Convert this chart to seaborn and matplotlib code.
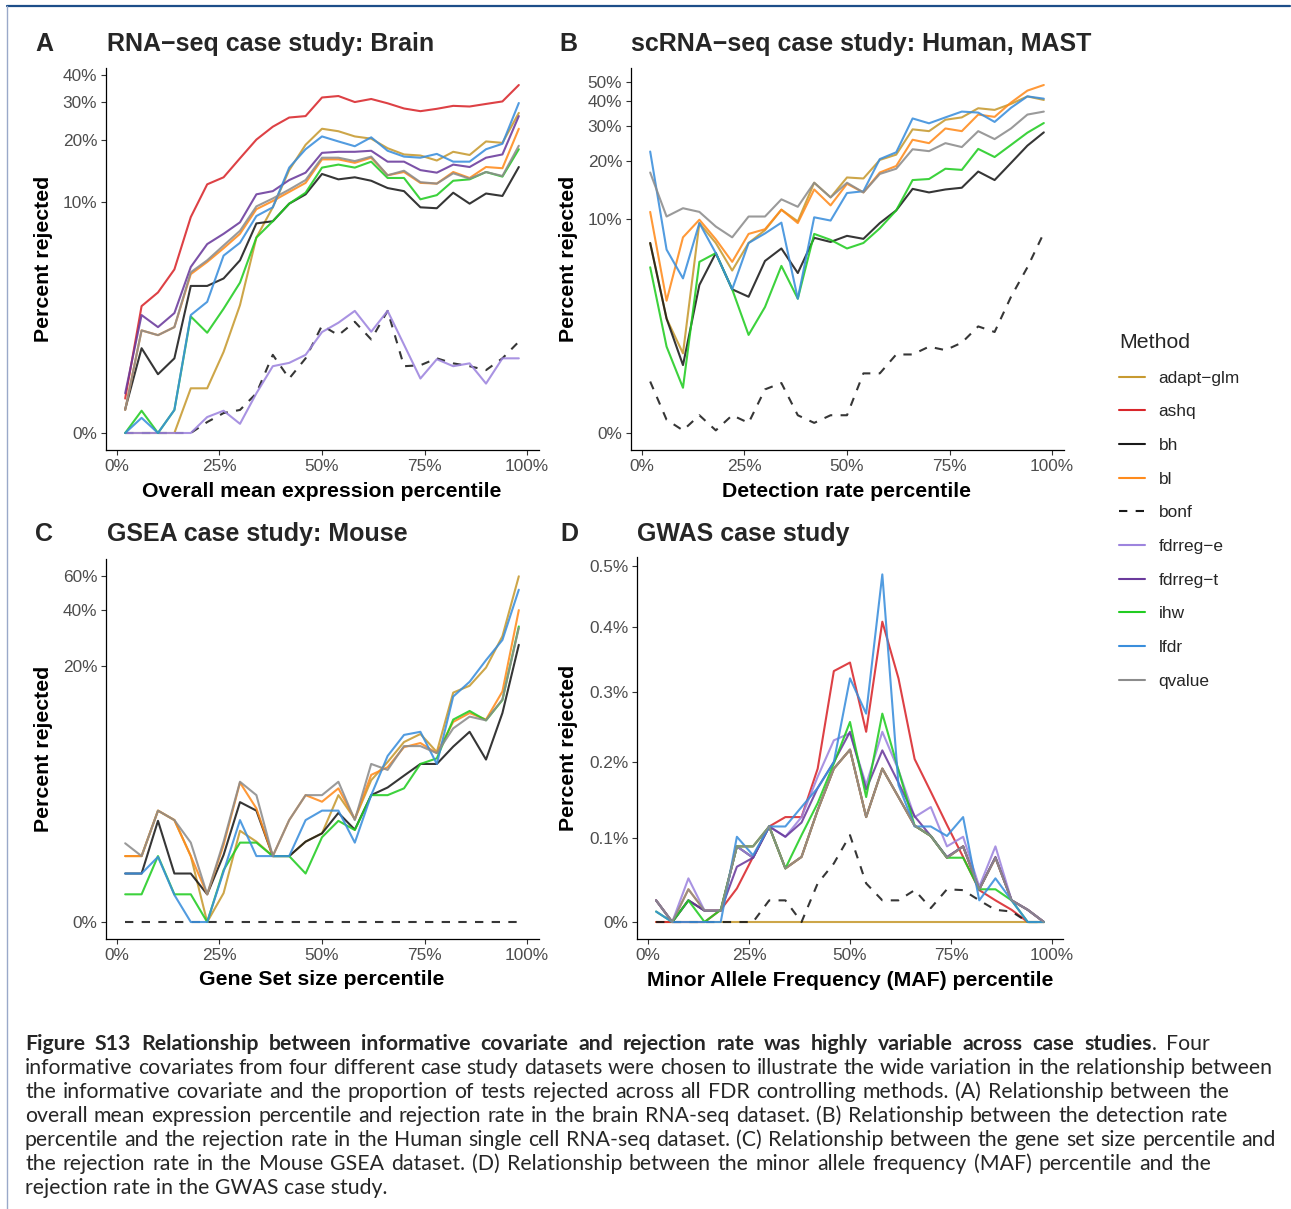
import numpy as np
import pandas as pd
import matplotlib
matplotlib.use("Agg")
import matplotlib.pyplot as plt
from matplotlib.lines import Line2D
import seaborn as sns

# ---------------------------------------------------------------- data
PERCENTILE = [2, 6, 10, 14, 18, 22, 26, 30, 34, 38, 42, 46, 50,
              54, 58, 62, 66, 70, 74, 78, 82, 86, 90, 94, 98]

METHODS = ["adapt−glm", "ashq", "bh", "bl", "bonf",
           "fdrreg−e", "fdrreg−t", "ihw", "lfdr", "qvalue"]

COLORS = {
    "adapt−glm": "#C79A30",
    "ashq": "#D9262B",
    "bh": "#1A1A1A",
    "bl": "#FF8B1C",
    "bonf": "#1A1A1A",
    "fdrreg−e": "#9D84DE",
    "fdrreg−t": "#6A3A9C",
    "ihw": "#22CC22",
    "lfdr": "#3A8EDC",
    "qvalue": "#8C8C8C",
}
DASHES = {m: "" for m in METHODS}
DASHES["bonf"] = (4, 4)

# A: RNA-seq, brain (percent rejected)
BRAIN = {
    "adapt−glm": [0, 0, 0, 0, 0.59, 0.59, 1.32, 2.77, 6.6, 9.4, 14.3, 18.9, 22.5,
                  21.9, 20.7, 20.2, 18.2, 17.0, 16.8, 15.9, 17.5, 16.9, 19.6, 19.3, 26.7],
    "ashq": [0.43, 2.73, 3.3, 4.46, 8.4, 12.2, 13.2, 16.3, 20.0, 23.0, 25.4, 25.8, 31.5,
             32.0, 30.0, 31.0, 29.6, 28.0, 27.2, 27.9, 28.8, 28.6, 29.4, 30.2, 36.0],
    "bh": [0.28, 1.41, 0.84, 1.17, 3.6, 3.6, 3.97, 5.0, 7.8, 8.0, 9.8, 10.9, 13.7,
           12.9, 13.2, 12.7, 11.7, 11.3, 9.4, 9.3, 11.1, 9.8, 11.0, 10.7, 14.8],
    "bl": [0.27, 1.9, 1.76, 2.0, 4.2, 4.9, 5.8, 6.9, 9.2, 10.1, 11.2, 12.4, 16.1,
           16.1, 15.5, 16.4, 13.5, 14.0, 12.4, 12.3, 14.0, 13.1, 14.8, 14.6, 22.5],
    "bonf": [0, 0, 0, 0, 0, 0.12, 0.23, 0.27, 0.51, 1.25, 0.76, 1.17, 2.05,
             1.76, 2.17, 1.64, 2.55, 1.0, 1.02, 1.17, 1.06, 1.0, 0.92, 1.17, 1.58],
    "fdrreg−e": [0, 0, 0, 0, 0, 0.18, 0.26, 0.10, 0.51, 1.0, 1.07, 1.25, 1.85,
                 2.14, 2.55, 1.86, 2.55, 1.5, 0.76, 1.15, 1.0, 1.06, 0.67, 1.17, 1.17],
    "fdrreg−t": [0.51, 2.4, 2.0, 2.47, 4.6, 6.1, 6.9, 7.9, 10.9, 11.3, 12.8, 13.9, 17.3,
                 17.5, 17.5, 17.7, 15.7, 15.7, 14.3, 13.9, 15.2, 14.8, 16.4, 17.0, 25.8],
    "ihw": [0, 0.26, 0, 0.27, 2.35, 1.83, 2.63, 3.76, 6.6, 8.0, 9.8, 11.1, 14.7,
            15.2, 14.7, 15.7, 13.1, 13.1, 10.3, 10.8, 12.7, 12.9, 14.0, 13.3, 18.0],
    "lfdr": [0, 0.17, 0, 0.27, 2.4, 2.9, 5.3, 6.2, 8.5, 9.4, 14.7, 18.0, 20.7,
             19.6, 18.6, 20.5, 17.7, 16.6, 16.4, 17.1, 15.7, 15.7, 18.0, 19.1, 29.7],
    "qvalue": [0.27, 1.9, 1.76, 2.0, 4.3, 5.0, 6.0, 7.15, 9.5, 10.4, 11.5, 12.8, 16.4,
               16.4, 15.8, 16.6, 13.5, 14.2, 12.5, 12.3, 13.8, 13.0, 14.0, 13.4, 18.7],
}

# B: scRNA-seq, human, MAST
HUMAN = {
    "adapt−glm": [7.4, 2.6, 1.44, 9.5, 7.4, 5.17, 7.4, 8.7, 11.2, 9.7, 15.5, 13.0, 16.5,
                  16.3, 20.3, 21.6, 29.0, 28.4, 32.4, 33.3, 37.0, 36.3, 38.9, 42.4, 40.7],
    "bh": [7.4, 2.6, 1.14, 4.25, 6.5, 4.0, 3.6, 5.87, 6.9, 5.0, 7.9, 7.5, 8.1,
           7.8, 9.5, 11.1, 14.4, 13.8, 14.3, 14.6, 17.7, 16.0, 19.6, 24.0, 28.0],
    "bl": [10.9, 3.4, 7.95, 9.9, 7.76, 5.8, 8.3, 8.8, 11.2, 9.5, 14.3, 11.8, 15.3,
           13.8, 17.5, 18.9, 25.7, 24.7, 29.3, 28.4, 34.4, 33.5, 39.5, 45.3, 48.3],
    "bonf": [0.78, 0.16, 0.03, 0.22, 0.03, 0.22, 0.12, 0.63, 0.75, 0.22, 0.12, 0.22, 0.22,
             0.95, 0.95, 1.41, 1.41, 1.63, 1.53, 1.75, 2.3, 2.1, 3.6, 5.4, 8.4],
    "ihw": [5.4, 1.63, 0.66, 5.8, 6.5, 4.0, 2.0, 3.1, 5.5, 3.5, 8.3, 7.7, 6.9,
            7.4, 8.9, 11.1, 16.0, 16.2, 18.3, 18.05, 23.1, 21.0, 24.2, 27.9, 31.2],
    "lfdr": [22.4, 6.8, 4.65, 9.5, 6.5, 4.0, 7.4, 8.35, 9.55, 3.5, 10.2, 9.8, 13.7,
             14.0, 20.5, 22.2, 32.9, 31.1, 33.3, 35.6, 35.2, 31.6, 37.2, 42.4, 41.3],
    "qvalue": [17.5, 10.3, 11.4, 10.9, 9.1, 7.95, 10.3, 10.3, 12.7, 11.6, 15.5, 13.0, 15.5,
               13.8, 17.2, 18.3, 23.0, 22.5, 24.7, 23.6, 28.4, 25.9, 29.3, 34.4, 35.6],
}

# C: GSEA, mouse
MOUSE = {
    "adapt−glm": [1.19, 1.19, 2.76, 2.36, 1.19, 0, 0.41, 1.96, 1.6, 1.19, 1.19, 1.6, 1.87,
                  3.52, 2.4, 4.4, 5.7, 7.5, 8.35, 6.55, 14.3, 15.6, 19.6, 28.9, 60.0],
    "bh": [0.78, 0.78, 2.33, 0.78, 0.78, 0.39, 1.22, 3.16, 2.76, 1.19, 1.19, 1.6, 1.87,
           2.66, 2.0, 3.52, 3.95, 4.7, 5.55, 5.55, 7.05, 8.6, 5.9, 11.0, 26.0],
    "bl": [1.19, 1.19, 2.76, 2.36, 1.19, 0.39, 1.5, 4.25, 2.86, 1.19, 2.36, 3.52, 3.18,
           3.9, 2.4, 4.75, 5.3, 7.0, 7.4, 6.45, 9.8, 11.0, 10.1, 14.5, 39.8],
    "bonf": [0] * 25,
    "ihw": [0.39, 0.39, 1.19, 0.39, 0.39, 0, 0.855, 1.57, 1.57, 1.19, 1.19, 0.78, 1.74,
            2.33, 1.985, 3.52, 3.52, 3.9, 5.55, 6.0, 10.1, 11.3, 10.0, 13.0, 32.6],
    "lfdr": [0.78, 0.78, 1.17, 0.38, 0, 0, 0.82, 2.36, 1.19, 1.19, 1.19, 2.36, 2.76,
             2.76, 1.57, 3.52, 6.2, 8.25, 8.6, 5.55, 13.6, 16.4, 21.5, 27.6, 51.0],
    "qvalue": [1.55, 1.19, 2.76, 2.36, 1.57, 0.39, 1.6, 4.3, 3.52, 1.19, 2.36, 3.52, 3.52,
               4.3, 2.36, 5.55, 5.1, 7.1, 7.1, 6.45, 9.0, 10.5, 10.0, 13.1, 32.0],
}

# D: GWAS
GWAS = {
    "adapt−glm": [0] * 25,
    "ashq": [0, 0, 0, 0, 0.014, 0.039, 0.077, 0.115, 0.127, 0.127, 0.191, 0.331, 0.344,
             0.242, 0.408, 0.320, 0.204, 0.160, 0.117, 0.077, 0.037, 0.025, 0.014, 0, 0],
    "bh": [0.025, 0, 0.025, 0.013, 0.013, 0.090, 0.076, 0.115, 0.063, 0.077, 0.136, 0.191, 0.217,
           0.127, 0.191, 0.153, 0.116, 0.103, 0.076, 0.090, 0.038, 0.076, 0.025, 0.014, 0],
    "bl": [0.025, 0, 0.038, 0.013, 0.013, 0.090, 0.090, 0.115, 0.063, 0.077, 0.136, 0.191, 0.217,
           0.127, 0.191, 0.153, 0.116, 0.103, 0.076, 0.090, 0.038, 0.076, 0.025, 0.014, 0],
    "bonf": [0, 0, 0, 0, 0, 0, 0, 0.025, 0.025, 0, 0.045, 0.069, 0.104,
             0.045, 0.025, 0.025, 0.037, 0.016, 0.038, 0.037, 0.025, 0.014, 0.012, 0, 0],
    "fdrreg−e": [0.025, 0, 0.051, 0.013, 0.013, 0.090, 0.076, 0.115, 0.102, 0.127, 0.180, 0.230, 0.240,
                 0.169, 0.242, 0.189, 0.127, 0.140, 0.090, 0.102, 0.041, 0.090, 0.025, 0.014, 0],
    "fdrreg−t": [0.025, 0, 0.025, 0.013, 0.013, 0.065, 0.076, 0.115, 0.102, 0.120, 0.165, 0.200, 0.242,
                 0.163, 0.216, 0.172, 0.128, 0.103, 0.077, 0.090, 0.038, 0.077, 0.025, 0.014, 0],
    "ihw": [0.012, 0, 0.025, 0, 0.014, 0.090, 0.090, 0.115, 0.063, 0.104, 0.145, 0.198, 0.256,
            0.153, 0.268, 0.189, 0.116, 0.103, 0.076, 0.076, 0.038, 0.038, 0.025, 0, 0],
    "lfdr": [0.012, 0, 0, 0, 0, 0.102, 0.079, 0.115, 0.115, 0.140, 0.165, 0.200, 0.320,
             0.268, 0.486, 0.169, 0.115, 0.115, 0.103, 0.127, 0.025, 0.051, 0.025, 0, 0],
    "qvalue": [0.025, 0, 0.038, 0.013, 0.013, 0.090, 0.090, 0.115, 0.063, 0.077, 0.136, 0.191, 0.217,
               0.127, 0.191, 0.153, 0.116, 0.103, 0.076, 0.090, 0.038, 0.076, 0.025, 0.014, 0],
}

X_TICKS = [0, 25, 50, 75, 100]
X_TICK_LABELS = ["0%", "25%", "50%", "75%", "100%"]

CAPTION_BOLD = ("Figure S13 Relationship between informative covariate and rejection "
                "rate was highly variable across case studies")
CAPTION_LINES = [
    ". Four",
    "informative covariates from four different case study datasets were chosen to "
    "illustrate the wide variation in the relationship between",
    "the informative covariate and the proportion of tests rejected across all FDR "
    "controlling methods. (A) Relationship between the",
    "overall mean expression percentile and rejection rate in the brain RNA-seq dataset. "
    "(B) Relationship between the detection rate",
    "percentile and the rejection rate in the Human single cell RNA-seq dataset. "
    "(C) Relationship between the gene set size percentile and",
    "the rejection rate in the Mouse GSEA dataset. (D) Relationship between the minor "
    "allele frequency (MAF) percentile and the",
    "rejection rate in the GWAS case study.",
]

# ---------------------------------------------------------------- style
sns.set_theme(style="ticks")
plt.rcParams["font.family"] = ["Liberation Sans", "DejaVu Sans"]

W, H = 1291, 1209
fig = plt.figure(figsize=(W / 100, H / 100), dpi=100)
fig.patch.set_facecolor("white")


def px_axes(left, top, right, bottom):
    return fig.add_axes([left / W, 1 - bottom / H, (right - left) / W, (bottom - top) / H])


def fwd(v):
    return np.log10(np.clip(1 + np.asarray(v, dtype=float), 1e-6, None))


def inv(t):
    return 10 ** np.asarray(t, dtype=float) - 1


def draw_panel(ax, data, yticks, ylabels, xlabel, ylab_x):
    rows = [(p, v, m) for m, vals in data.items() for p, v in zip(PERCENTILE, vals)]
    df = pd.DataFrame(rows, columns=["percentile", "rejected", "Method"])
    order = [m for m in METHODS if m in data]
    ax.set_yscale("function", functions=(fwd, inv))
    sns.lineplot(data=df, x="percentile", y="rejected", hue="Method", style="Method",
                 hue_order=order, style_order=order, palette=COLORS, dashes=DASHES,
                 estimator=None, sort=False, legend=False, ax=ax, lw=1.5, alpha=0.88)
    tmax = float(fwd(df["rejected"].max()))
    ax.set_ylim(inv(-0.05 * tmax), inv(1.05 * tmax))
    ax.set_xlim(-2.8, 102.8)
    ax.set_xticks(X_TICKS)
    ax.set_xticklabels(X_TICK_LABELS)
    ax.set_yticks(yticks)
    ax.set_yticklabels(ylabels)
    ax.minorticks_off()
    sns.despine(ax=ax)
    for s in ("left", "bottom"):
        ax.spines[s].set_linewidth(0.9)
        ax.spines[s].set_color("black")
    ax.tick_params(axis="both", length=3.5, width=0.8, color="#333333",
                   labelcolor="#4D4D4D", labelsize=12.4, pad=2.5)
    ax.set_xlabel(xlabel, fontsize=15.3, fontweight="bold", color="black")
    ax.set_ylabel("Percent rejected", fontsize=15.3, fontweight="bold", color="black")
    ax.xaxis.set_label_coords(0.5, -0.107)
    ax.xaxis.label.set_va("center")
    ax.yaxis.set_label_coords(ylab_x, 0.5)
    ax.yaxis.label.set_va("center")
    ax.set_facecolor("white")


axA = px_axes(105.5, 67.6, 538.5, 450.4)
axB = px_axes(630.5, 67.6, 1063.5, 450.4)
axC = px_axes(105.5, 559.0, 538.5, 939.3)
axD = px_axes(636.7, 557.0, 1063.3, 939.4)

draw_panel(axA, BRAIN, [0, 10, 20, 30, 40], ["0%", "10%", "20%", "30%", "40%"],
           "Overall mean expression percentile", -0.144)
draw_panel(axB, HUMAN, [0, 10, 20, 30, 40, 50], ["0%", "10%", "20%", "30%", "40%", "50%"],
           "Detection rate percentile", -0.144)
draw_panel(axC, MOUSE, [0, 20, 40, 60], ["0%", "20%", "40%", "60%"],
           "Gene Set size percentile", -0.144)
draw_panel(axD, GWAS, [0, 0.1, 0.2, 0.3, 0.4, 0.5],
           ["0%", "0.1%", "0.2%", "0.3%", "0.4%", "0.5%"],
           "Minor Allele Frequency (MAF) percentile", -0.161)

# panel letters and titles
for letter, lx, title, tx, ty in [
    ("A", 35, "RNA−seq case study: Brain", 107, 44),
    ("B", 559, "scRNA−seq case study: Human, MAST", 631, 44),
    ("C", 35, "GSEA case study: Mouse", 107, 534),
    ("D", 560, "GWAS case study", 637, 534),
]:
    fig.text(lx / W, 1 - ty / H, letter, fontsize=18, fontweight="bold",
             ha="left", va="center")
    fig.text(tx / W, 1 - ty / H, title, fontsize=18, fontweight="bold",
             ha="left", va="center")

# legend
handles = [Line2D([0], [0], color=COLORS[m], lw=1.5,
                  linestyle=(0, (4, 4)) if m == "bonf" else "-") for m in METHODS]
leg = fig.legend(handles, METHODS, title="Method", loc="upper left",
                 bbox_to_anchor=(1119 / W, 1 - 333 / H), frameon=False,
                 fontsize=12.4, title_fontsize=15.3, handlelength=1.5,
                 handletextpad=0.8, labelspacing=1.08, borderpad=0, borderaxespad=0)
leg._legend_box.align = "left"

# frame lines
fig.add_artist(Line2D([7 / W, 1290 / W], [1 - 6 / H, 1 - 6 / H], color="#1D4E89",
                      lw=1.6, transform=fig.transFigure))
fig.add_artist(Line2D([7 / W, 7 / W], [1 - 6 / H, 0], color="#9AA9C9",
                      lw=1.0, transform=fig.transFigure))

# caption, set word by word so each line reaches its right margin
fig.canvas.draw()
renderer = fig.canvas.get_renderer()
cap_font = ["Lato", "DejaVu Sans"]
probe = fig.text(0, 0, CAPTION_LINES[1], family=cap_font, fontsize=14)
w14 = probe.get_window_extent(renderer).width
probe.remove()
cap_size = 14 * 1248 / w14


def set_line(tokens, y, right):
    """tokens: (text, weight, gap_before); spread the gaps to end at `right`."""
    arts, widths = [], []
    for text, weight, _ in tokens:
        t = fig.text(0, 1 - y / H, text, family=cap_font, fontsize=cap_size,
                     fontweight=weight, ha="left", va="center")
        arts.append(t)
        widths.append(t.get_window_extent(renderer).width)
    n_gaps = sum(1 for tok in tokens[1:] if tok[2])
    gap = (right - 25 - sum(widths)) / max(n_gaps, 1)
    x = 25.0
    for (text, weight, gap_before), t, w in zip(tokens, arts, widths):
        if gap_before and t is not arts[0]:
            x += gap
        t.set_x(x / W)
        x += w


first = [(w, "bold", True) for w in CAPTION_BOLD.split()]
first.append((".", "normal", False))
first.append(("Four", "normal", True))
set_line(first, 1044, 1210)

rights = [1273, 1229, 1228, 1276, 1211]
for i, (line, right) in enumerate(zip(CAPTION_LINES[1:6], rights), start=1):
    set_line([(w, "normal", True) for w in line.split()], 1044 + 24 * i, right)
fig.text(25 / W, 1 - (1044 + 24 * 6) / H, CAPTION_LINES[6], family=cap_font,
         fontsize=cap_size, ha="left", va="center")

fig.savefig("out.png", dpi=100, facecolor="white")
